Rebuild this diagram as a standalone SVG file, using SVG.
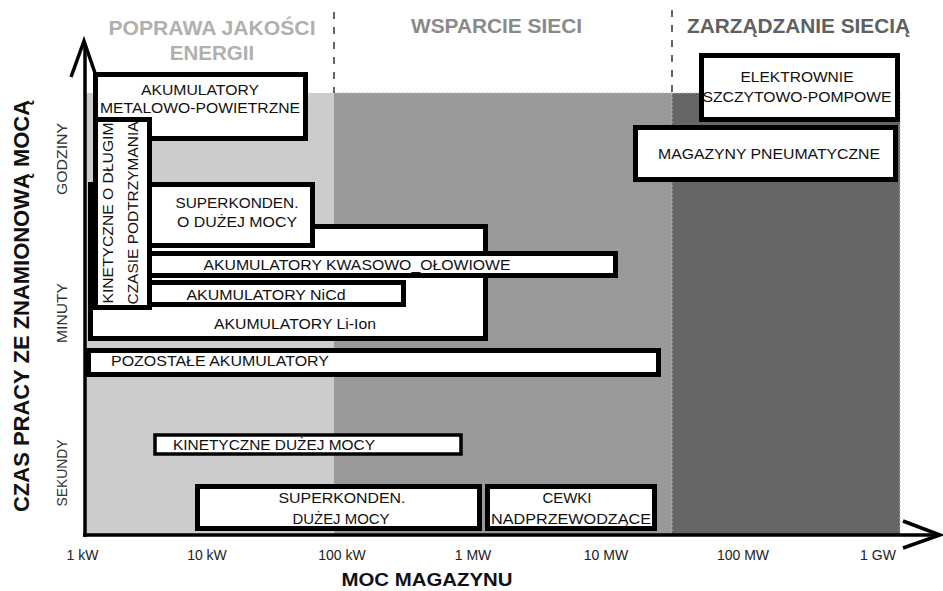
<svg xmlns="http://www.w3.org/2000/svg" width="943" height="591" viewBox="0 0 943 591">
<style>
  text { font-family: "Liberation Sans", Arial, sans-serif; }
  .box rect { fill: #ffffff; stroke: #000000; stroke-width: 5; }
  .lbl { font-size: 15.5px; fill: #111111; text-anchor: middle; }
  .title { font-size: 20.5px; font-weight: bold; text-anchor: middle; }
  .tick { font-size: 14px; fill: #222222; text-anchor: middle; }
  .side { font-size: 14.5px; fill: #333333; text-anchor: middle; }
  .axt { font-weight: bold; fill: #111111; text-anchor: middle; }
  .div { stroke: #333333; stroke-width: 1.5; stroke-dasharray: 7 8; fill: none; }
  .edge { stroke: #bbbbbb; stroke-width: 1; stroke-dasharray: 2 2; fill: none; }
  .ax { stroke: #000000; fill: none; stroke-width: 3.5; }
</style>

<g id="background">
  <rect x="86" y="93" width="248" height="441" fill="#cccccc"/>
  <rect x="334" y="93" width="338" height="441" fill="#999999"/>
  <rect x="672" y="93" width="228" height="441" fill="#666666"/>
  <line class="edge" x1="672" y1="93" x2="672" y2="533"/>
  <line class="edge" x1="900" y1="93" x2="900" y2="533"/>
  <line class="edge" x1="334" y1="93" x2="900" y2="93"/>
  <line class="div" x1="334" y1="12" x2="334" y2="93"/>
  <line class="div" x1="672" y1="10" x2="672" y2="93"/>
</g>

<g id="titles">
  <text class="title" x="212" y="35" fill="#b0b0b0" textLength="207" lengthAdjust="spacingAndGlyphs">POPRAWA JAKOŚCI</text>
  <text class="title" x="212" y="60" fill="#b0b0b0">ENERGII</text>
  <text class="title" x="496.5" y="33" fill="#8a8a8a" textLength="171" lengthAdjust="spacingAndGlyphs">WSPARCIE SIECI</text>
  <text class="title" x="798.5" y="33" fill="#606060" textLength="223" lengthAdjust="spacingAndGlyphs">ZARZĄDZANIE SIECIĄ</text>
</g>

<g id="axes">
  <line class="ax" x1="85" y1="537" x2="85" y2="44" stroke-width="4"/>
  <polyline class="ax" points="71,77 84,41 96,76"/>
  <line class="ax" x1="83" y1="535" x2="938" y2="535"/>
  <polyline class="ax" points="903,521 940,535 903,548"/>
  <text class="axt" font-size="22" transform="translate(29,306) rotate(-90)" textLength="412" lengthAdjust="spacingAndGlyphs">CZAS PRACY ZE ZNAMIONOWĄ MOCĄ</text>
  <text class="side" transform="translate(67,159) rotate(-90)" textLength="72" lengthAdjust="spacingAndGlyphs">GODZINY</text>
  <text class="side" transform="translate(67,313) rotate(-90)" textLength="60" lengthAdjust="spacingAndGlyphs">MINUTY</text>
  <text class="side" transform="translate(67,473) rotate(-90)" textLength="67" lengthAdjust="spacingAndGlyphs">SEKUNDY</text>
  <text class="tick" x="82.5" y="560">1 kW</text>
  <text class="tick" x="207" y="560">10 kW</text>
  <text class="tick" x="342" y="560">100 kW</text>
  <text class="tick" x="473" y="560">1 MW</text>
  <text class="tick" x="606" y="560">10 MW</text>
  <text class="tick" x="743" y="560">100 MW</text>
  <text class="tick" x="878" y="560">1 GW</text>
  <text class="axt" font-size="18" x="427" y="586" textLength="171" lengthAdjust="spacingAndGlyphs">MOC MAGAZYNU</text>
</g>

<g id="connectors"></g>

<g id="node-pozostale" class="box">
  <rect x="88.5" y="350.5" width="570" height="24"/>
  <text class="lbl" x="220" y="366" textLength="218" lengthAdjust="spacingAndGlyphs">POZOSTAŁE AKUMULATORY</text>
</g>
<g id="node-li-ion" class="box">
  <rect x="90.5" y="226.5" width="395" height="112"/>
  <text class="lbl" x="295" y="329" textLength="162" lengthAdjust="spacingAndGlyphs">AKUMULATORY Li-Ion</text>
</g>
<g id="node-superkonden-duzej-mocy-godziny" class="box">
  <rect x="90.5" y="184.5" width="222" height="61"/>
  <text class="lbl" x="237" y="208" textLength="123" lengthAdjust="spacingAndGlyphs">SUPERKONDEN.</text>
  <text class="lbl" x="237" y="227" textLength="120" lengthAdjust="spacingAndGlyphs">O DUŻEJ MOCY</text>
</g>
<g id="node-kwasowo-olowiowe" class="box">
  <rect x="90.5" y="253.5" width="525" height="22"/>
  <text class="lbl" x="357" y="270" textLength="307" lengthAdjust="spacingAndGlyphs">AKUMULATORY KWASOWO_OŁOWIOWE</text>
</g>
<g id="node-nicd" class="box">
  <rect x="90.5" y="282.5" width="313" height="22"/>
  <text class="lbl" x="266" y="300" textLength="159" lengthAdjust="spacingAndGlyphs">AKUMULATORY NiCd</text>
</g>
<g id="node-metalowo-powietrzne" class="box">
  <rect x="95.5" y="74.5" width="210" height="64"/>
  <text class="lbl" x="200" y="95" textLength="118" lengthAdjust="spacingAndGlyphs">AKUMULATORY</text>
  <text class="lbl" x="200" y="113" textLength="200" lengthAdjust="spacingAndGlyphs">METALOWO-POWIETRZNE</text>
</g>
<g id="node-kinetyczne-dlugie" class="box">
  <rect x="95.5" y="119.5" width="54" height="188"/>
  <text class="lbl" transform="translate(113,213) rotate(-90)" textLength="181" lengthAdjust="spacingAndGlyphs">KINETYCZNE O DŁUGIM</text>
  <text class="lbl" transform="translate(138,213) rotate(-90)" textLength="183" lengthAdjust="spacingAndGlyphs">CZASIE PODTRZYMANIA</text>
</g>
<g id="node-kinetyczne-duzej-mocy" class="box">
  <rect x="155" y="435" width="306" height="19" style="stroke-width:3.5"/>
  <text class="lbl" x="274" y="450" textLength="202" lengthAdjust="spacingAndGlyphs">KINETYCZNE DUŻEJ MOCY</text>
</g>
<g id="node-superkonden-duzej-mocy" class="box">
  <rect x="197.5" y="486.5" width="282" height="42"/>
  <text class="lbl" x="342" y="503" textLength="127" lengthAdjust="spacingAndGlyphs">SUPERKONDEN.</text>
  <text class="lbl" x="341" y="524" textLength="97" lengthAdjust="spacingAndGlyphs">DUŻEJ MOCY</text>
</g>
<g id="node-cewki" class="box">
  <rect x="487.5" y="486.5" width="167" height="42"/>
  <text class="lbl" x="567" y="503" textLength="49" lengthAdjust="spacingAndGlyphs">CEWKI</text>
  <text class="lbl" x="571" y="524" textLength="160" lengthAdjust="spacingAndGlyphs">NADPRZEWODZĄCE</text>
</g>
<g id="node-elektrownie" class="box">
  <rect x="701.5" y="55.5" width="196" height="64"/>
  <text class="lbl" x="797" y="82" textLength="113" lengthAdjust="spacingAndGlyphs">ELEKTROWNIE</text>
  <text class="lbl" x="797" y="102" textLength="189" lengthAdjust="spacingAndGlyphs">SZCZYTOWO-POMPOWE</text>
</g>
<g id="node-magazyny-pneumatyczne" class="box">
  <rect x="635.5" y="127.5" width="260" height="52"/>
  <text class="lbl" x="769" y="159" textLength="222" lengthAdjust="spacingAndGlyphs">MAGAZYNY PNEUMATYCZNE</text>
</g>
</svg>
